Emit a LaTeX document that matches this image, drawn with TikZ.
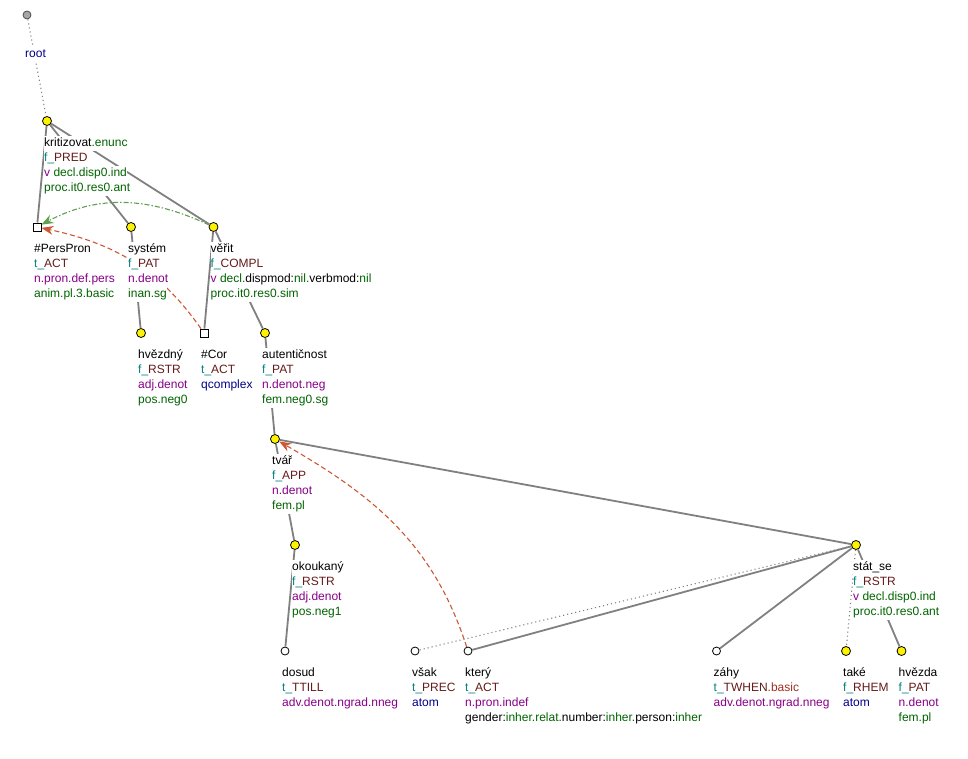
\documentclass[tikz,border=0pt]{standalone}
\usepackage{fontspec}
\setmainfont{Liberation Sans}
\usepackage{xcolor}
\usepackage{tikz}
\usetikzlibrary{arrows.meta}
\definecolor{edgegray}{RGB}{128,128,128}
\definecolor{fteal}{RGB}{0,128,128}
\definecolor{fbrown}{RGB}{102,26,26}
\definecolor{fred}{RGB}{160,48,32}
\definecolor{fpurple}{RGB}{136,0,136}
\definecolor{fgreen}{RGB}{0,100,0}
\definecolor{fnavy}{RGB}{0,0,136}
\definecolor{corefred}{RGB}{204,88,52}
\definecolor{corefgreen}{RGB}{96,160,80}
\setlength{\fboxsep}{0pt}
\newcommand{\rowtxt}[1]{\colorbox{white}{\strut#1}}
\newcommand{\tq}[1]{\textcolor{fteal}{#1}}
\newcommand{\bn}[1]{\textcolor{fbrown}{#1}}
\newcommand{\pu}[1]{\textcolor{fpurple}{#1}}
\newcommand{\gr}[1]{\textcolor{fgreen}{#1}}
\newcommand{\nv}[1]{\textcolor{fnavy}{#1}}

\begin{document}
\begin{tikzpicture}[x=1pt, y=-1pt,
  yel/.style={circle, draw=black, line width=0.8pt, fill=yellow, minimum size=9pt, inner sep=0pt},
  wht/.style={circle, draw=black, line width=0.8pt, fill=white, minimum size=8pt, inner sep=0pt},
  sqr/.style={rectangle, draw=black, line width=0.8pt, fill=white, minimum size=8pt, inner sep=0pt},
  rootpt/.style={circle, draw=black!70, line width=0.8pt, fill=black!35, minimum size=8pt, inner sep=0pt},
  edge/.style={draw=edgegray, line width=1.8pt},
  dotedge/.style={draw=edgegray, line width=1.1pt, dash pattern=on 1.1pt off 3pt},
  corefr/.style={draw=corefred, line width=1.1pt, dash pattern=on 5pt off 3pt, -{Stealth[length=12pt, width=9pt]}},
  corefg/.style={draw=corefgreen, line width=1.1pt, dash pattern=on 5pt off 2pt on 1.5pt off 2pt, -{Stealth[length=12pt, width=9pt]}},
  lbl/.style={anchor=north west, inner sep=0pt, align=left, xshift=-3pt, yshift=-14.5pt, font=\fontsize{12}{15}\selectfont}]
  \useasboundingbox (0,0) rectangle (968,759);
  % ── Tree nodes ──
  \node[rootpt] (root) at (27,15) {};
  \node[yel] (krit) at (47,121) {};
  \node[sqr] (pers) at (37,227) {};
  \node[yel] (sys) at (131,227) {};
  \node[yel] (verit) at (213.5,227) {};
  \node[yel] (hvny) at (141,333) {};
  \node[sqr] (cor) at (204,333) {};
  \node[yel] (aut) at (265,333) {};
  \node[yel] (tvar) at (275,439) {};
  \node[yel] (okou) at (295,545) {};
  \node[wht] (dosud) at (285,651) {};
  \node[wht] (vsak) at (415,651) {};
  \node[wht] (ktery) at (468,651) {};
  \node[wht] (zahy) at (716.5,651) {};
  \node[yel] (stat) at (856,545) {};
  \node[yel] (take) at (846,651) {};
  \node[yel] (hvda) at (901.5,651) {};
  %
  % ── Edges ──
  \draw[dotedge] (root) -- (krit);
  \draw[edge] (krit) -- (pers);
  \draw[edge] (krit) -- (sys);
  \draw[edge] (krit) -- (verit);
  \draw[edge] (sys) -- (hvny);
  \draw[edge] (verit) -- (cor);
  \draw[edge] (verit) -- (aut);
  \draw[edge] (aut) -- (tvar);
  \draw[edge] (tvar) -- (okou);
  \draw[edge] (okou) -- (dosud);
  \draw[edge] (tvar) -- (stat);
  \draw[dotedge] (stat) -- (vsak);
  \draw[edge] (stat) -- (ktery);
  \draw[edge] (stat) -- (zahy);
  \draw[dotedge] (stat) -- (take);
  \draw[edge] (stat) -- (hvda);
  %
  % ── Coreference arrows ──
  \draw[corefg] (verit) to[out=155, in=28] (pers);
  \draw[corefr] (cor) to[out=125, in=-12] (pers);
  \draw[corefr] (ktery) to[out=108, in=-30] (tvar);
  %
  % ── Labels ──
  \node[lbl, xshift=1pt, yshift=-17pt] (root-l) at (root) {\rowtxt{\nv{root}}};
  \node[lbl] (krit-l) at (krit) {\rowtxt{kritizovat\gr{.enunc}}\\\rowtxt{\tq{f\_}\bn{PRED}}\\\rowtxt{\pu{v} \gr{decl.disp0.ind}}\\\rowtxt{\gr{proc.it0.res0.ant}}};
  \node[lbl] (pers-l) at (pers) {\rowtxt{\#PersPron}\\\rowtxt{\tq{t\_}\bn{ACT}}\\\rowtxt{\pu{n.pron.def.pers}}\\\rowtxt{\gr{anim.pl.3.basic}}};
  \node[lbl] (sys-l) at (sys) {\rowtxt{systém}\\\rowtxt{\tq{f\_}\bn{PAT}}\\\rowtxt{\pu{n.denot}}\\\rowtxt{\gr{inan.sg}}};
  \node[lbl] (verit-l) at (verit) {\rowtxt{věřit}\\\rowtxt{\tq{f\_}\bn{COMPL}}\\\rowtxt{\pu{v} \gr{decl.}dispmod:\gr{nil.}verbmod:\gr{nil}}\\\rowtxt{\gr{proc.it0.res0.sim}}};
  \node[lbl] (hvny-l) at (hvny) {\rowtxt{hvězdný}\\\rowtxt{\tq{f\_}\bn{RSTR}}\\\rowtxt{\pu{adj.denot}}\\\rowtxt{\gr{pos.neg0}}};
  \node[lbl] (cor-l) at (cor) {\rowtxt{\#Cor}\\\rowtxt{\tq{t\_}\bn{ACT}}\\\rowtxt{\nv{qcomplex}}};
  \node[lbl] (aut-l) at (aut) {\rowtxt{autentičnost}\\\rowtxt{\tq{f\_}\bn{PAT}}\\\rowtxt{\pu{n.denot.neg}}\\\rowtxt{\gr{fem.neg0.sg}}};
  \node[lbl] (tvar-l) at (tvar) {\rowtxt{tvář}\\\rowtxt{\tq{f\_}\bn{APP}}\\\rowtxt{\pu{n.denot}}\\\rowtxt{\gr{fem.pl}}};
  \node[lbl] (okou-l) at (okou) {\rowtxt{okoukaný}\\\rowtxt{\tq{f\_}\bn{RSTR}}\\\rowtxt{\pu{adj.denot}}\\\rowtxt{\gr{pos.neg1}}};
  \node[lbl] (dosud-l) at (dosud) {\rowtxt{dosud}\\\rowtxt{\tq{t\_}\bn{TTILL}}\\\rowtxt{\pu{adv.denot.ngrad.nneg}}};
  \node[lbl] (vsak-l) at (vsak) {\rowtxt{však}\\\rowtxt{\tq{t\_}\bn{PREC}}\\\rowtxt{\nv{atom}}};
  \node[lbl] (ktery-l) at (ktery) {\rowtxt{který}\\\rowtxt{\tq{t\_}\bn{ACT}}\\\rowtxt{\pu{n.pron.indef}}\\\rowtxt{gender:\gr{inher.relat.}number:\gr{inher.}person:\gr{inher}}};
  \node[lbl] (zahy-l) at (zahy) {\rowtxt{záhy}\\\rowtxt{\tq{t\_}\bn{TWHEN}\textcolor{fred}{.basic}}\\\rowtxt{\pu{adv.denot.ngrad.nneg}}};
  \node[lbl] (stat-l) at (stat) {\rowtxt{stát\_se}\\\rowtxt{\tq{f\_}\bn{RSTR}}\\\rowtxt{\pu{v} \gr{decl.disp0.ind}}\\\rowtxt{\gr{proc.it0.res0.ant}}};
  \node[lbl] (take-l) at (take) {\rowtxt{také}\\\rowtxt{\tq{f\_}\bn{RHEM}}\\\rowtxt{\nv{atom}}};
  \node[lbl] (hvda-l) at (hvda) {\rowtxt{hvězda}\\\rowtxt{\tq{f\_}\bn{PAT}}\\\rowtxt{\pu{n.denot}}\\\rowtxt{\gr{fem.pl}}};
\end{tikzpicture}
\end{document}
